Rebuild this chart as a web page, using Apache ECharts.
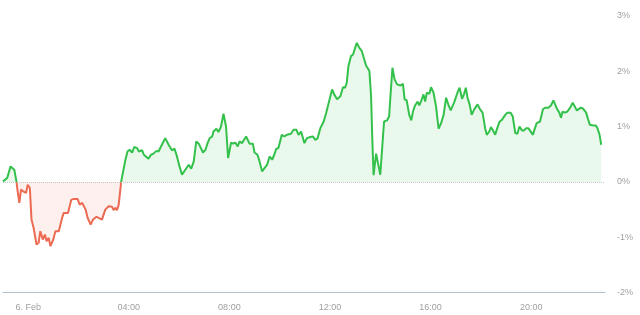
<!DOCTYPE html>
<html>
<head>
<meta charset="utf-8">
<script src="https://cdn.jsdelivr.net/npm/echarts@6/dist/echarts.min.js"></script>
<style>html,body{margin:0;padding:0;background:#fff;}#c{width:640px;height:315px;}</style>
</head>
<body>
<div id="c"></div>
<script>
// time in minutes relative to 00:00 on 6 Feb
var times = [
  -60,-50,-42,-38,-33,-28,-25,-21,-17,-12,-9,-5,-1,
  4,8,13,20,25,29,35,40,44,49,53,60,65,
  73,81,85,89,95,103,109,118,123,129,137,142,149,
  155,163,168,176,184,192,200,204,208,212,216,222,
  232,237,242,248,253,260,264,272,276,282,
  287,293,299,306,311,319,327,335,343,349,
  355,361,367,375,383,389,395,401,407,411,
  417,423,428,433,439,442,449,454,460,466,
  472,477,484,489,494,500,504,510,514,520,
  528,536,540,547,552,558,562,570,576,582,
  587,592,597,605,611,617,621,627,633,640,
  645,651,659,665,673,679,685,690,697,705,
  711,717,725,
  730,737,745,751,756,760,764,770,775,780,
  784,790,796,800,806,810,814,818,821,824,
  830,836,840,845,849,856,861,864,869,874,
  880,888,894,898,903,909,914,918,923,929,
  933,939,943,947,951,957,961,967,973,979,
  985,991,997,1003,1008,
  1016,1024,1029,1035,1040,1044,1048,1053,1058,1064,
  1072,1078,1084,1090,1094,1100,1104,1108,1114,1119,
  1124,1130,1138,1143,1151,1156,1162,1167,1172,1178,
  1183,1188,1193,1197,1204,1209,1213,1221,1228,1233,
  1241,1247,1253,1257,1262,1267,1271,1275,1281,1286,
  1293,1299,1302,1309,1313,1318,1324,1331,1336,1340,
  1348,1354,1358,1363,1367
];
// percentage change
var values = [
  0.01,0.07,0.28,0.29,0.22,0.01,-0.17,-0.38,-0.14,-0.17,-0.14,-0.20,-0.05,
  -0.11,-0.68,-0.83,-1.13,-1.10,-0.89,-1.04,-0.95,-1.07,-1.01,-1.16,-1.04,-0.89,
  -0.89,-0.65,-0.56,-0.59,-0.56,-0.32,-0.31,-0.31,-0.41,-0.38,-0.50,-0.65,-0.77,
  -0.68,-0.63,-0.65,-0.68,-0.50,-0.44,-0.45,-0.51,-0.47,-0.51,-0.41,0.01,
  0.40,0.55,0.58,0.53,0.63,0.61,0.55,0.57,0.49,0.45,
  0.42,0.49,0.51,0.56,0.55,0.67,0.79,0.67,0.57,0.60,
  0.46,0.28,0.13,0.22,0.31,0.24,0.37,0.73,0.69,0.71,
  0.53,0.58,0.70,0.79,0.82,0.91,0.96,0.90,1.00,1.23,
  1.00,0.43,0.71,0.69,0.71,0.64,0.73,0.70,0.71,0.82,
  0.69,0.69,0.53,0.49,0.37,0.19,0.16,0.31,0.46,0.40,
  0.49,0.60,0.61,0.85,0.82,0.85,0.82,0.87,0.94,0.94,
  0.85,0.91,0.70,0.79,0.81,0.82,0.76,0.78,0.97,1.09,
  1.25,1.43,1.67,
  1.58,1.49,1.55,1.71,1.70,1.79,2.09,2.27,2.30,2.42,
  2.51,2.42,2.36,2.33,2.10,2.12,2.00,1.55,0.76,0.12,
  0.51,0.28,0.13,0.67,1.09,1.11,1.18,1.52,2.06,1.85,
  1.76,1.74,1.77,1.49,1.47,1.21,1.11,1.27,1.38,1.45,
  1.38,1.49,1.58,1.45,1.61,1.59,1.71,1.61,1.36,0.96,
  1.06,1.21,1.52,1.38,1.29,
  1.43,1.61,1.70,1.50,1.59,1.70,1.52,1.40,1.21,1.31,
  1.40,1.31,1.25,0.97,0.85,0.91,0.99,0.94,0.85,0.97,
  1.08,1.12,1.21,1.25,1.25,1.18,0.88,0.87,1.00,0.93,
  0.93,0.97,0.97,0.94,0.85,0.97,1.06,1.09,1.31,1.34,
  1.34,1.38,1.47,1.45,1.31,1.25,1.16,1.27,1.25,1.27,
  1.34,1.43,1.41,1.29,1.26,1.34,1.32,1.25,1.12,1.03,
  1.02,1.02,0.97,0.85,0.67
];
var xTickValues = [0, 240, 480, 720, 960, 1200];
var xTickLabels = ['6. Feb', '04:00', '08:00', '12:00', '16:00', '20:00'];
var yTicks = [-2, -1, 0, 1, 2, 3];

var GREEN = '#33c14b', RED = '#ec6a52';
var FONT = 'Liberation Sans';
var pts = times.map(function (t, i) { return [t, values[i]]; });
var yMin = yTicks[0], yMax = yTicks[yTicks.length - 1];

var chart = echarts.init(document.getElementById('c'), null, { renderer: 'canvas' });
chart.setOption({
  animation: false,
  grid: { left: 3, right: 35, top: 15.7, bottom: 22.3, containLabel: false },
  xAxis: {
    type: 'value', min: -60, max: 1376,
    axisLine: { onZero: false, lineStyle: { color: '#b3bfcf', width: 1 } },
    axisTick: { show: false },
    splitLine: { show: false },
    axisLabel: {
      customValues: xTickValues,
      color: '#a0a0a0', fontSize: 9, fontFamily: FONT, margin: 10,
      formatter: function (v) { var i = xTickValues.indexOf(v); return i >= 0 ? xTickLabels[i] : ''; }
    }
  },
  yAxis: {
    type: 'value', position: 'right', min: yMin, max: yMax, interval: 1,
    axisLine: { show: false }, axisTick: { show: false }, splitLine: { show: false },
    axisLabel: { color: '#a0a0a0', fontSize: 9, fontFamily: FONT, margin: 12, formatter: '{value}%' }
  },
  visualMap: {
    show: false, type: 'piecewise', dimension: 1, seriesIndex: 0,
    pieces: [{ gte: yMin, lt: 0, color: RED }, { gte: 0, lte: yMax, color: GREEN }]
  },
  series: [{
    type: 'line', data: pts, symbol: 'none', smooth: false,
    lineStyle: { width: 2 },
    areaStyle: { opacity: 0.1 }
  }, {
    type: 'line', data: [], silent: true,
    markLine: {
      silent: true, symbol: 'none', label: { show: false },
      lineStyle: { type: 'dotted', color: '#c8c8c8', width: 1 },
      data: [{ yAxis: 0 }]
    }
  }]
});
</script>
</body>
</html>
